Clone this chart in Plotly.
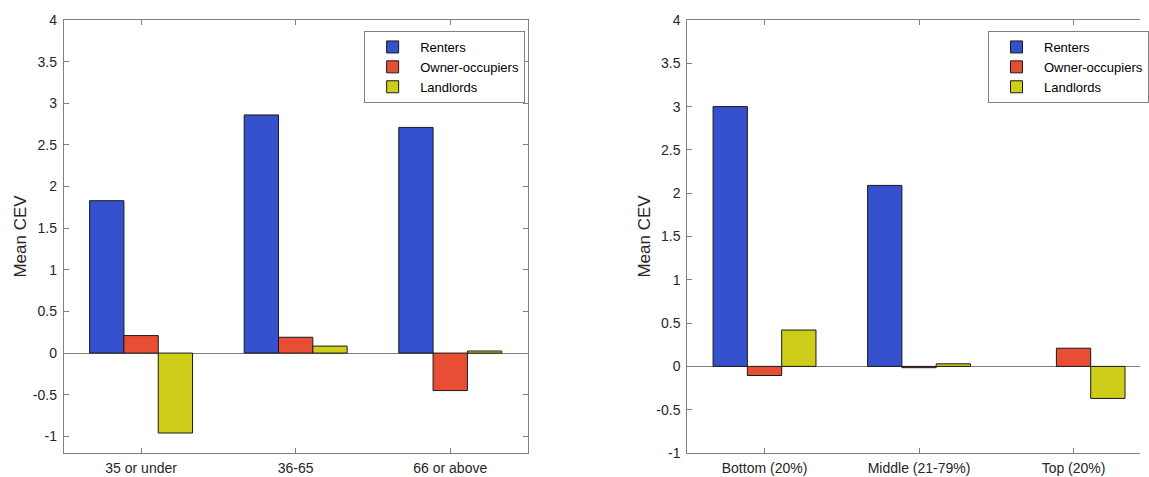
import plotly.graph_objects as go

# ---- data ----
age_groups = ["35 or under", "36-65", "66 or above"]
renters_age = [1.83, 2.86, 2.71]
owners_age = [0.21, 0.19, -0.45]
landlords_age = [-0.96, 0.084, 0.025]

income_groups = ["Bottom (20%)", "Middle (21-79%)", "Top (20%)"]
renters_inc = [3.0, 2.09, None]
owners_inc = [-0.105, -0.015, 0.21]
landlords_inc = [0.42, 0.03, -0.37]

series_names = ["Renters", "Owner-occupiers", "Landlords"]
colors = ["#3550CC", "#E84E33", "#CDCD1A"]

y_ticks_left = [-1, -0.5, 0, 0.5, 1, 1.5, 2, 2.5, 3, 3.5, 4]
y_ticktext_left = ["-1", "-0.5", "0", "0.5", "1", "1.5", "2", "2.5", "3", "3.5", "4"]
y_ticks_right = [-1, -0.5, 0, 0.5, 1, 1.5, 2, 2.5, 3, 3.5, 4]
y_ticktext_right = ["-1", "-0.5", "0", "0.5", "1", "1.5", "2", "2.5", "3", "3.5", "4"]

W, H = 1149, 477
MT, MB = 20, 24
PH = H - MT - MB

FONT = "Liberation Sans, Arial, Helvetica, sans-serif"

fig = go.Figure()

for name, col, vals in zip(series_names, colors, [renters_age, owners_age, landlords_age]):
    fig.add_trace(go.Bar(x=age_groups, y=vals, name=name, xaxis="x", yaxis="y",
                         marker=dict(color=col, line=dict(color="#1a1a1a", width=1)),
                         legend="legend", showlegend=True))
for name, col, vals in zip(series_names, colors, [renters_inc, owners_inc, landlords_inc]):
    fig.add_trace(go.Bar(x=income_groups, y=vals, name=name, xaxis="x2", yaxis="y2",
                         marker=dict(color=col, line=dict(color="#1a1a1a", width=1)),
                         legend="legend2", showlegend=True))

axis_common = dict(showline=True, linecolor="#808080", linewidth=1, ticks="inside",
                   ticklen=5, tickcolor="#808080", showgrid=False, automargin=False,
                   tickfont=dict(family=FONT, size=14, color="#262626"))

ytitle = dict(text="Mean CEV", standoff=1, font=dict(family=FONT, size=17, color="#262626"))

legend_common = dict(xanchor="left", yanchor="top", bgcolor="white",
                     bordercolor="#808080", borderwidth=1, itemwidth=45,
                     font=dict(family=FONT, size=13, color="#000000"))

fig.update_layout(
    width=W, height=H,
    margin=dict(l=0, r=0, t=MT, b=MB),
    plot_bgcolor="white", paper_bgcolor="white",
    barmode="group", bargap=0.334, bargroupgap=0,
    font=dict(family=FONT, size=14, color="#262626"),
    xaxis=dict(domain=[64.3 / W, 531.7 / W], range=[-0.5, 2.5], mirror="ticks",
               anchor="y", ticklabelstandoff=2, **axis_common),
    yaxis=dict(domain=[0, 1], range=[-1.2, 4], tickvals=y_ticks_left, ticktext=y_ticktext_left,
               mirror="ticks", anchor="x", ticklabelstandoff=3,
               zeroline=True, zerolinecolor="#808080", zerolinewidth=1,
               title=ytitle, **axis_common),
    xaxis2=dict(domain=[692.7 / W, 1.0], range=[-0.5, 2.43], mirror="ticks",
                anchor="y2", ticklabelstandoff=2, **axis_common),
    yaxis2=dict(domain=[0, 1], range=[-1, 4], tickvals=y_ticks_right, ticktext=y_ticktext_right,
                mirror=False, anchor="x2", ticklabelstandoff=3,
                zeroline=True, zerolinecolor="#808080", zerolinewidth=1,
                title=ytitle, **axis_common),
    legend=dict(x=367 / W, y=(H - MB - 31) / PH, **legend_common),
    legend2=dict(x=996 / W, y=(H - MB - 31) / PH, **legend_common),
)

fig.write_html("out.html", config={"displayModeBar": False},
               post_script="document.body.style.margin='0px';document.body.style.overflow='hidden';")
